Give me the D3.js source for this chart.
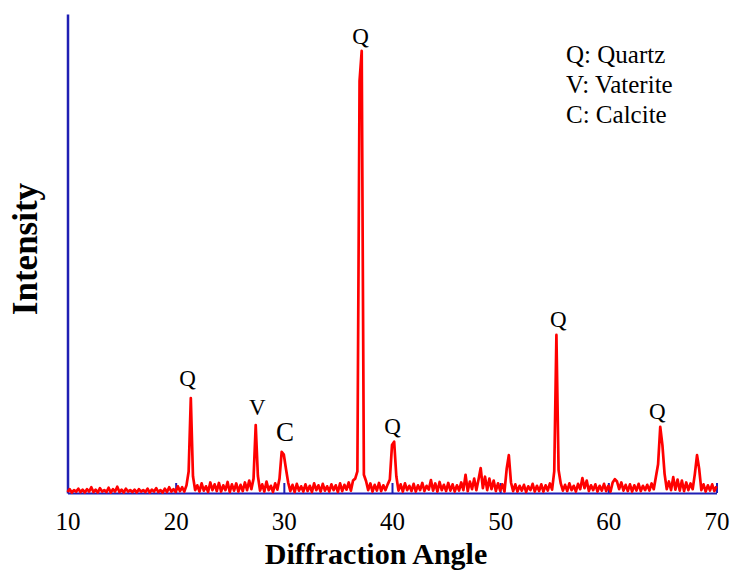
<!DOCTYPE html>
<html><head><meta charset="utf-8">
<script src="https://cdn.jsdelivr.net/npm/d3@7"></script>
<style>body{margin:0;background:#fff} svg{display:block}</style>
</head><body><svg id="chart" width="731" height="571"></svg>
<script>
// 2-theta grid: 10 to 70 deg, step 0.2
const angleStart = 10, angleStep = 0.2;
const intensity = [
  2,8,1,6,3,9,2,7,1,8,
  3,12,2,7,1,10,3,6,2,11,
  1,8,3,13,2,7,1,9,3,6,
  2,7,1,8,3,6,2,9,1,7,
  3,10,2,6,1,9,2,12,3,8,
  2,14,4,12,3,16,45,198,35,6,
  16,3,20,5,14,2,22,6,18,4,
  21,3,16,6,23,2,18,5,20,3,
  17,4,22,6,26,8,30,142,36,5,
  18,3,24,6,15,2,20,7,30,86,
  80,50,22,4,17,2,19,5,14,3,
  18,4,15,2,20,6,16,3,19,5,
  14,3,18,6,16,2,20,4,17,7,
  22,5,26,30,45,860,923,38,25,6,
  20,3,17,5,21,4,16,6,18,28,
  100,107,35,5,18,3,20,6,15,4,
  19,3,16,6,21,4,15,7,27,5,
  20,3,23,6,17,4,21,5,18,3,
  16,5,22,6,38,4,24,8,30,6,
  28,52,10,34,6,30,8,26,4,20,
  5,18,3,50,79,22,4,18,3,15,
  5,17,2,14,6,19,3,15,4,18,
  3,16,5,20,7,45,330,48,20,5,
  17,4,20,6,15,3,19,8,31,10,
  26,4,16,6,18,3,15,5,19,4,
  15,3,22,29,24,8,22,5,17,4,
  18,3,16,5,19,4,15,6,17,5,
  20,8,34,60,138,100,40,8,24,6,
  33,7,28,5,26,4,22,6,20,8,
  40,79,50,6,18,3,16,5,18,4,
  14
];
const xTicks = [10,20,30,40,50,60,70];
const labelText  = ["Q","V","C","Q","Q","Q","Q"];
const labelAngle = [21.1,27.55,30.1,37.1,40.05,55.37,64.53];
const labelLevel = [223,163,109,937,123,347,154];
const labelSize  = [23,23,27,23,23,23,23];
const legendItems = ["Q: Quartz","V: Vaterite","C: Calcite"];

const data = intensity.map((v,i)=>({a: angleStart + i*angleStep, v}));

const svg = d3.select("#chart");
const x = d3.scaleLinear().domain([10,70]).range([67.5,716.5]);
const y = d3.scaleLinear().domain([0,1000]).range([493,14]);
const serif = "'Times New Roman','Liberation Serif',serif";
const blue = "#1f1fb4";

// x axis (blue baseline, inward ticks)
const xAxis = d3.axisBottom(x).tickValues(xTicks).tickSizeInner(-10).tickSizeOuter(0).tickPadding(19);
const gx = svg.append("g").attr("transform",`translate(0,${y(0)})`).call(xAxis);
gx.select(".domain").attr("stroke",blue).attr("stroke-width",2);
gx.selectAll(".tick line").attr("stroke",blue).attr("stroke-width",2);
gx.selectAll(".tick text").attr("fill","#000").attr("font-family",serif).attr("font-size",25).attr("dy","0.71em");

// y axis line
const yAxis = d3.axisLeft(y).tickValues([]).tickSizeOuter(0);
const gy = svg.append("g").attr("transform",`translate(${x(10)},0)`).call(yAxis);
gy.select(".domain").attr("stroke",blue).attr("stroke-width",2.5);

// pattern
const line = d3.line().x(d=>x(d.a)).y(d=>y(d.v));
svg.append("path").datum(data).attr("d",line)
  .attr("fill","none").attr("stroke","#ff0000").attr("stroke-width",2.7).attr("stroke-linejoin","round");

// peak labels
svg.selectAll("text.peak").data(labelText).enter().append("text").attr("class","peak")
  .attr("x",(d,i)=>x(labelAngle[i])).attr("y",(d,i)=>y(labelLevel[i]))
  .attr("text-anchor","middle").attr("font-family",serif).attr("font-size",(d,i)=>labelSize[i])
  .text(d=>d);

// legend
svg.selectAll("text.leg").data(legendItems).enter().append("text").attr("class","leg")
  .attr("x",566).attr("y",(d,i)=>63+i*30)
  .attr("font-family",serif).attr("font-size",25).text(d=>d);

// axis titles
svg.append("text").attr("x",376).attr("y",564).attr("text-anchor","middle")
  .attr("font-family",serif).attr("font-weight","bold").attr("font-size",30).text("Diffraction Angle");
svg.append("text").attr("transform","translate(37,249) rotate(-90)").attr("text-anchor","middle")
  .attr("font-family",serif).attr("font-weight","bold").attr("font-size",35).text("Intensity");
</script></body></html>
